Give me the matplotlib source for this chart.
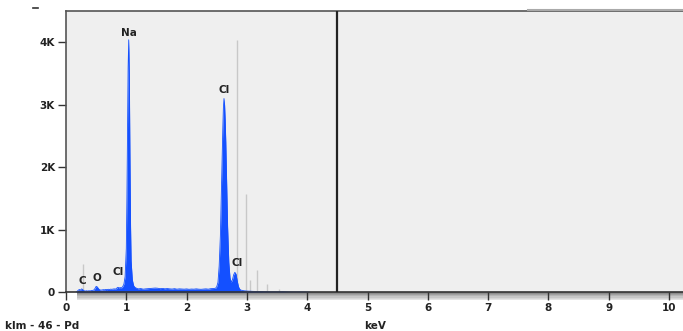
import matplotlib.pyplot as plt
from matplotlib.lines import Line2D
from matplotlib.patches import Rectangle

# EDS spectrum, counts
energy = [0.16, 0.18, 0.20, 0.22, 0.24, 0.26, 0.28, 0.30, 0.32, 0.34, 0.36, 0.38,
          0.40, 0.42, 0.44, 0.46, 0.48, 0.50, 0.52, 0.54, 0.56, 0.58, 0.60, 0.62,
          0.64, 0.66, 0.68, 0.70, 0.72, 0.74, 0.76, 0.78, 0.80, 0.82, 0.84, 0.86,
          0.88, 0.90, 0.92, 0.94, 0.96,
          0.98, 1.00, 1.01, 1.02, 1.03, 1.04, 1.05, 1.06, 1.07, 1.08, 1.10, 1.12,
          1.14, 1.16, 1.18,
          1.20, 1.24, 1.28, 1.32, 1.36, 1.40, 1.44, 1.48, 1.52, 1.56, 1.60, 1.64,
          1.68, 1.72, 1.76, 1.80, 1.84, 1.88, 1.92, 1.96, 2.00, 2.04, 2.08, 2.12,
          2.16, 2.20, 2.24, 2.28, 2.32, 2.36, 2.40, 2.44, 2.48,
          2.50, 2.52, 2.54, 2.56, 2.57, 2.58, 2.59, 2.60, 2.61, 2.62, 2.63, 2.64,
          2.65, 2.66, 2.67, 2.68, 2.70, 2.72, 2.74, 2.76, 2.78, 2.80, 2.82, 2.84,
          2.86, 2.88, 2.90, 2.95, 3.00, 3.10, 3.20, 3.30, 3.40, 3.50, 3.60, 3.70,
          3.80, 3.90, 4.00, 4.05]
counts = [0, 10, 30, 45, 35, 55, 40, 25, 20, 25, 20, 25,
          22, 28, 30, 35, 60, 95, 85, 55, 40, 35, 38, 42,
          40, 45, 42, 48, 45, 50, 48, 52, 55, 50, 65, 80,
          70, 75, 70, 90, 130,
          250, 700, 1500, 2600, 3600, 4040, 3500, 2200, 1100, 500, 200, 110,
          80, 70, 60,
          55, 60, 50, 55, 58, 62, 65, 68, 65, 58, 62, 56,
          60, 55, 52, 58, 50, 55, 52, 50, 54, 48, 52, 50,
          55, 50, 48, 52, 55, 50, 58, 60, 65,
          90, 160, 420, 900, 1300, 1750, 2200, 2600, 2950, 3100, 3000, 2750,
          2400, 1950, 1500, 1050, 480, 230, 160, 200, 280, 320, 290, 180,
          90, 50, 35, 25, 20, 15, 12, 10, 8, 8, 10, 6,
          5, 6, 4, 0]

# KLM markers for Pd (gray lines)
klm_energy = [0.275, 2.838, 2.990, 3.045, 3.172, 3.328, 3.530]
klm_height = [460, 4030, 1580, 200, 350, 140, 60]

# peak labels
peak_names = ["C", "O", "Cl", "Na", "Cl", "Cl"]
peak_x = [0.27, 0.52, 0.87, 1.04, 2.63, 2.84]
peak_y = [180, 230, 330, 4150, 3240, 470]

fig = plt.figure(figsize=(6.83, 3.31), dpi=100)
ax = fig.add_axes([66 / 683, 1 - 292.3 / 331, 1 - 66 / 683, (292.3 - 11) / 331])
ax.set_facecolor('#efefef')

ax.vlines(klm_energy, 0, klm_height, color='#c8c8c8', lw=1, zorder=1)
ax.fill_between(energy, counts, color='#1450ff', lw=0, zorder=2)
ax.plot(energy, counts, color='#1450ff', lw=0.6, zorder=2)

for i in range(len(peak_names)):
    ax.text(peak_x[i], peak_y[i], peak_names[i], ha='center', va='center',
            fontsize=7.5, fontweight='bold', color='#222222', zorder=3)

# cursor line
ax.axvline(4.49, color='#222222', lw=1.6, zorder=3)

ax.set_xlim(0, (683 - 65.7) / 60.33)
ax.set_ylim(0, 4500)
ax.set_xticks(range(0, 11))
ax.set_xticklabels([str(v) for v in range(0, 11)])
ax.set_yticks([0, 1000, 2000, 3000, 4000])
ax.set_yticklabels(["0", "1K", "2K", "3K", "4K"])
ax.tick_params(axis='both', direction='out', length=6, width=1, color='#333333',
               labelsize=7.5, labelcolor='#222222', pad=2)
for lab in ax.get_xticklabels() + ax.get_yticklabels():
    lab.set_fontweight('bold')

for side in ['left', 'top', 'bottom']:
    ax.spines[side].set_color('#555555')
    ax.spines[side].set_linewidth(1.2)
ax.spines['bottom'].set_color('#333333')
ax.spines['right'].set_visible(False)

# gray shaded strip under the axis
greys = ['#8c8c8c', '#a0a0a0', '#b4b4b4', '#c6c6c6', '#d6d6d6', '#e4e4e4']
for i, g in enumerate(greys):
    ax.add_patch(Rectangle((0.18, -(i + 1) * 1.3 * 4500 / 281.3), 12,
                           1.3 * 4500 / 281.3, color=g, lw=0,
                           clip_on=False, zorder=0))

fig.text(5 / 683, 5 / 331, "klm - 46 - Pd", fontsize=7.5, fontweight='bold',
         color='#222222', va='center', ha='left')
fig.text(375 / 683, 5 / 331, "keV", fontsize=7.5, fontweight='bold',
         color='#222222', va='center', ha='center')

fig.add_artist(Line2D([33 / 683, 38 / 683], [1 - 8 / 331, 1 - 8 / 331],
                      color='#333333', lw=1.2))
fig.add_artist(Line2D([528 / 683, 1.0], [1 - 9.5 / 331, 1 - 9.5 / 331],
                      color='#aaaaaa', lw=1.5))

plt.savefig("out.png", dpi=100)
